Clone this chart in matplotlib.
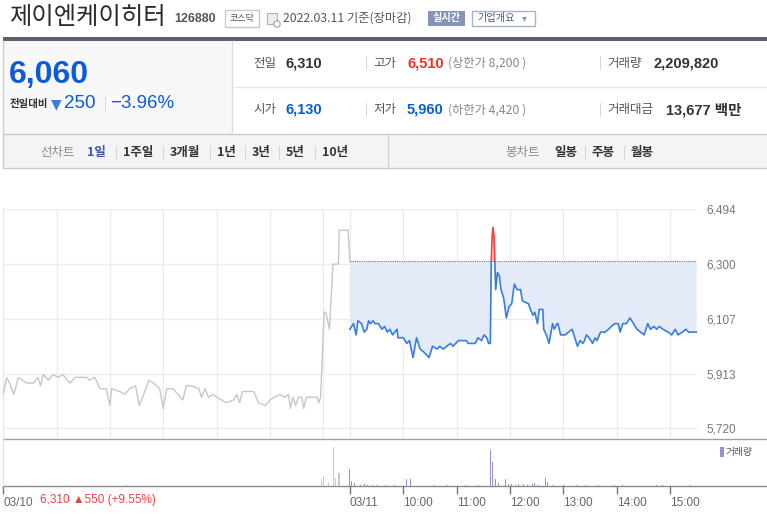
import numpy as np
import matplotlib
matplotlib.use("Agg")
import matplotlib.pyplot as plt
from matplotlib.patches import Rectangle, Circle

plt.rcParams['font.family'] = ['Noto Sans CJK KR', 'DejaVu Sans']

# ---- data ----
prev_close = 6310
y_ticks = [5720, 5913, 6107, 6300, 6494]

# 03/10, minutes after 09:00 and price
d1_min = [0, 4, 7, 12, 17, 22, 26, 34, 39, 42, 45, 51, 56, 62, 67, 75, 81, 94, 97, 103,
          109, 116, 120, 122, 131, 137, 142, 149, 153, 158, 164, 169, 176, 180, 184, 191,
          202, 206, 212, 220, 223, 227, 231, 236, 240, 251, 259, 263, 266, 269, 282, 287,
          295, 300, 311, 317, 321, 323, 326, 329, 332, 336, 338, 341, 353, 355, 357, 361,
          363, 367, 371, 377, 378, 388, 390]
d1_price = [5840, 5900, 5880, 5840, 5900, 5890, 5880, 5880, 5900, 5870, 5910, 5890, 5910,
            5900, 5910, 5880, 5900, 5900, 5890, 5900, 5860, 5860, 5800, 5860, 5850, 5840,
            5860, 5870, 5800, 5840, 5890, 5880, 5860, 5790, 5860, 5860, 5820, 5870, 5870,
            5860, 5830, 5860, 5830, 5840, 5830, 5810, 5820, 5840, 5810, 5850, 5850, 5810,
            5800, 5820, 5840, 5830, 5840, 5790, 5830, 5800, 5830, 5830, 5790, 5830, 5830,
            5810, 5830, 6130, 6130, 6070, 6300, 6300, 6420, 6420, 6310]

# 03/11, minutes after 09:00 and price
d2_min = [0, 4, 7, 9, 13, 16, 19, 21, 23, 26, 28, 32, 36, 39, 42, 45, 48, 53, 54, 60, 64,
          67, 71, 75, 79, 83, 89, 93, 98, 101, 105, 113, 116, 122, 131, 133, 141, 144, 148,
          151, 154, 156, 158, 159, 160, 161, 162, 163, 164, 166, 168, 170, 173, 176, 179,
          182, 185, 188, 192, 194, 201, 203, 206, 208, 211, 213, 217, 218, 221, 224, 228,
          230, 233, 234, 237, 242, 246, 250, 252, 256, 259, 262, 264, 266, 269, 273, 276,
          278, 282, 287, 291, 294, 298, 302, 304, 307, 311, 315, 319, 323, 327, 331, 335,
          338, 342, 345, 348, 352, 358, 362, 366, 369, 374, 378, 381, 390]
d2_price = [6070, 6090, 6050, 6100, 6090, 6060, 6070, 6100, 6090, 6100, 6090, 6090, 6070,
            6080, 6060, 6070, 6050, 6070, 6040, 6040, 6020, 6030, 5970, 6040, 6000, 5990,
            5970, 6010, 6000, 6010, 6000, 6020, 6010, 6030, 6030, 6020, 6020, 6040, 6030,
            6050, 6040, 6020, 6020, 6310, 6400, 6430, 6400, 6310, 6210, 6270, 6260, 6210,
            6180, 6110, 6150, 6160, 6230, 6210, 6210, 6170, 6160, 6140, 6120, 6130, 6090,
            6140, 6140, 6070, 6050, 6020, 6090, 6070, 6090, 6090, 6050, 6050, 6060, 6070,
            6050, 6010, 6030, 6020, 6030, 6050, 6040, 6020, 6040, 6030, 6060, 6060, 6070,
            6080, 6090, 6090, 6060, 6090, 6090, 6110, 6090, 6070, 6060, 6050, 6090, 6070,
            6080, 6070, 6080, 6070, 6060, 6050, 6070, 6050, 6060, 6070, 6060, 6060]

# volume, thousand shares
d1_vol_min = [30, 75, 140, 200, 300, 358, 360, 362, 366, 371, 372, 374, 377, 378]
d1_vol = [8, 6, 10, 5, 6, 70, 100, 50, 30, 80, 390, 80, 130, 130]
d2_vol_min = [0, 2, 5, 8, 12, 16, 20, 25, 30, 35, 40, 45, 50, 64, 68, 71, 80, 95, 110, 130,
              145, 152, 158, 160, 162, 164, 167, 170, 175, 178, 182, 186, 190, 195, 200, 205,
              208, 212, 220, 222, 225, 228, 240, 255, 265, 280, 298, 307, 345, 352, 383]
d2_vol = [170, 50, 30, 20, 15, 20, 15, 10, 10, 15, 10, 10, 10, 70, 70, 50, 10, 10, 10, 10,
          10, 15, 360, 240, 100, 70, 30, 30, 70, 20, 20, 15, 20, 20, 15, 20,
          30, 15, 80, 40, 20, 15, 10, 10, 10, 10, 10, 10, 10, 10, 10]

x_ticks = [0, 390, 450, 510, 570, 630, 690, 750]
x_labels = ['03/10', '03/11', '10:00', '11:00', '12:00', '13:00', '14:00', '15:00']
grid_min = [0, 60, 120, 180, 240, 300, 360, 390, 450, 510, 570, 630, 690, 750]

# ---- figure and page chrome (pixel coords) ----
W, H = 767, 521
fig = plt.figure(figsize=(W / 100, H / 100), dpi=100)
ui = fig.add_axes([0, 0, 1, 1], zorder=0)
ui.set_xlim(0, W)
ui.set_ylim(H, 0)
ui.axis('off')


def box(x0, y0, x1, y1, fc='none', ec='none', lw=1):
    ui.add_patch(Rectangle((x0, y0), x1 - x0, y1 - y0, facecolor=fc, edgecolor=ec, lw=lw))


def txt(x, y, s, size, color='#333333', weight='normal', ha='left', family=None):
    kw = {}
    if family:
        kw['family'] = family
    ui.text(x, y, s, fontsize=size, color=color, fontweight=weight, ha=ha, va='center', **kw)


num = ['Liberation Sans', 'Noto Sans CJK KR', 'DejaVu Sans']

# title row
txt(9, 17.5, '제이엔케이히터', 17.5, '#2a2a2a')
txt(174, 19, '126880', 9, '#555555', 'bold', family=num)
box(225, 10, 259, 27, fc='white', ec='#c8c8c8')
txt(242, 18.5, '코스닥', 6.5, '#555555', ha='center')
box(267, 13, 277, 24, fc='#eeeeee', ec='#b0b0b0', lw=0.8)
ui.add_patch(Circle((277, 24), 3.2, facecolor='white', edgecolor='#a0a0a0', lw=0.8))
txt(283, 18.5, '2022.03.11 기준(장마감)', 8.8, '#555555')
box(428, 11, 465, 26, fc='#8594b8')
txt(446.5, 18.5, '실시간', 7.3, 'white', 'bold', ha='center')
box(472, 11, 535, 26, fc='white', ec='#a7b1cc')
txt(477, 18.5, '기업개요', 7.3, '#4a5680')
txt(522, 18.5, '▾', 7, '#8a96b8', family=['DejaVu Sans'])

box(3, 37, W, 40.5, fc='#5b6068')

# quote panel
box(3, 40.5, 232, 134, fc='#f8f8f8')
ui.plot([3, 3], [40.5, 134], color='#d0d0d0', lw=1)
ui.plot([232, 232], [40.5, 134], color='#dcdcdc', lw=1)
ui.plot([232, W], [87, 87], color='#e8e8e8', lw=1)
txt(9, 75, '6,060', 23, '#0b5cd7', 'bold', family=num)
txt(10, 104, '전일대비', 7.5, '#333333', 'bold')
txt(51, 104, '▼', 10, '#3b7ddd', family=['DejaVu Sans'])
txt(64, 104, '250', 13.5, '#0b5cd7', family=num)
txt(104, 104, '|', 9, '#cccccc')
txt(110, 104, '−3.96%', 13.5, '#0b5cd7', family=num)

rows = [
    (63, [(253, '전일', '#555555', 'normal', None), (285, '6,310', '#333333', 'bold', num),
          (365, '|', '#cccccc', 'normal', None), (373, '고가', '#555555', 'normal', None),
          (407, '6,510', '#f0302d', 'bold', num), (448, '(상한가 8,200 )', '#888888', 'normal', None),
          (599, '|', '#cccccc', 'normal', None), (607, '거래량', '#555555', 'normal', None),
          (654, '2,209,820', '#333333', 'bold', num)]),
    (110, [(253, '시가', '#555555', 'normal', None), (285, '6,130', '#0b5cd7', 'bold', num),
           (365, '|', '#cccccc', 'normal', None), (373, '저가', '#555555', 'normal', None),
           (407, '5,960', '#0b5cd7', 'bold', num), (448, '(하한가 4,420 )', '#888888', 'normal', None),
           (599, '|', '#cccccc', 'normal', None), (607, '거래대금', '#555555', 'normal', None),
           (666, '13,677 백만', '#333333', 'bold', num)]),
]
for yy, items in rows:
    for xx, s, c, wgt, fam in items:
        size = 10.5 if fam else 9
        if s.startswith('('):
            size = 8.8
        txt(xx, yy, s, size, c, wgt, family=fam)

# tab bar
box(3, 134, W + 2, 168, fc='#f3f4f6', ec='#c8cad0')
ui.plot([388, 388], [134, 168], color='#d0d2d8', lw=1)
tabs = [(40, '선차트', '#888888', 'normal'), (87, '1일', '#3d5aa8', 'bold'),
        (115, '|', '#cccccc', 'normal'), (123, '1주일', '#333333', 'bold'),
        (162, '|', '#cccccc', 'normal'), (170, '3개월', '#333333', 'bold'),
        (209, '|', '#cccccc', 'normal'), (217, '1년', '#333333', 'bold'),
        (244, '|', '#cccccc', 'normal'), (252, '3년', '#333333', 'bold'),
        (278, '|', '#cccccc', 'normal'), (286, '5년', '#333333', 'bold'),
        (314, '|', '#cccccc', 'normal'), (322, '10년', '#333333', 'bold'),
        (505, '봉차트', '#888888', 'normal'), (554, '일봉', '#333333', 'bold'),
        (584, '|', '#cccccc', 'normal'), (592, '주봉', '#333333', 'bold'),
        (623, '|', '#cccccc', 'normal'), (631, '월봉', '#333333', 'bold')]
for xx, s, c, wgt in tabs:
    txt(xx, 152.5, s, 9, c, wgt)

# chart frame lines
ui.plot([3, W], [438.5, 438.5], color='#a0a0a0', lw=1)
ui.plot([3, W], [486, 486], color='#8a8a8a', lw=1)
ui.plot([3.2, 3.2], [209, 486], color='#e4e4e4', lw=1)
box(720, 447, 723.5, 457, fc='#9a8fd0')
txt(726, 452, '거래량', 7, '#555555')
txt(40, 500, '6,310 ▲550 (+9.55%)', 8.5, '#f04040', family=['Liberation Sans', 'DejaVu Sans'])

# ---- price axes ----
ax = fig.add_axes([3.2 / W, (H - 438) / H, 693.4 / W, (438 - 209.3) / H], zorder=1)
ax.set_facecolor('none')
ax.set_xlim(0, 780)
ax.set_ylim(5685.7, 6494)
for s in ax.spines.values():
    s.set_visible(False)
ax.set_xticks(grid_min)
ax.set_yticks(y_ticks)
ax.set_yticklabels([f'{v:,}' for v in y_ticks])
ax.yaxis.tick_right()
ax.tick_params(axis='y', length=0, pad=7, labelsize=8.5, labelcolor='#777777')
for lab in ax.get_yticklabels():
    lab.set_family(num)
ax.tick_params(axis='x', length=0, labelbottom=False)
ax.grid(True, color='#ececec', lw=1)
ax.set_axisbelow(True)

ax.plot(d1_min, d1_price, color='#c5c7cc', lw=1)

x2 = 390 + np.array(d2_min)
y2 = np.array(d2_price)
ax.fill_between(x2, y2, prev_close, where=y2 <= prev_close, interpolate=True,
                color='#e3ebf8', lw=0)
ax.fill_between(x2, y2, prev_close, where=y2 >= prev_close, interpolate=True,
                color='#fbe2e2', lw=0)
ax.plot([390, 780], [prev_close, prev_close], color='#777777', ls=(0, (1, 1)), lw=0.8)
blue, = ax.plot(x2, y2, color='#3b7ddd', lw=1.2)
red, = ax.plot(x2, y2, color='#ff3b3b', lw=1.2)
blue.set_clip_path(Rectangle((0, 5000), 780, prev_close - 5000, transform=ax.transData))
red.set_clip_path(Rectangle((0, prev_close), 780, 2000, transform=ax.transData))

# ---- volume axes ----
vax = fig.add_axes([3.2 / W, (H - 486) / H, 693.4 / W, 47 / H], zorder=1)
vax.set_facecolor('none')
vax.set_xlim(0, 780)
vax.set_ylim(0, 470)
for s in vax.spines.values():
    s.set_visible(False)
vax.bar(d1_vol_min, d1_vol, width=0.9, color='#c6c6cc', lw=0)
vax.bar(390 + np.array(d2_vol_min), d2_vol, width=0.9, color='#9a8fd0', lw=0)
vax.set_yticks([])
vax.set_xticks(x_ticks)
vax.set_xticklabels(x_labels)
vax.tick_params(axis='x', length=6, width=1, color='#777777', pad=2,
                labelsize=8.5, labelcolor='#666666')
for lab in vax.get_xticklabels():
    lab.set_ha('left')
    lab.set_family(num)

fig.savefig('out.png', dpi=100)
